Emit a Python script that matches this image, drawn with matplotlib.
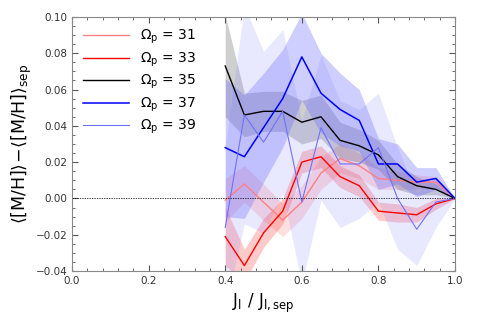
import matplotlib
matplotlib.use('Agg')
import matplotlib.pyplot as plt
from matplotlib.ticker import MultipleLocator

plt.rcParams['mathtext.fontset'] = 'dejavusans'

jl = [0.40, 0.45, 0.50, 0.55, 0.60, 0.65, 0.70, 0.75, 0.80, 0.85, 0.90, 0.95, 1.00]

omegas = [31, 33, 35, 37, 39]

mh_31 = [-0.001, 0.008, -0.002, -0.012, -0.002, 0.014, 0.022, 0.018, 0.011, 0.010, 0.009, 0.009, 0.0]
mh_33 = [-0.021, -0.037, -0.019, -0.007, 0.020, 0.023, 0.012, 0.007, -0.007, -0.008, -0.009, -0.003, 0.0]
mh_35 = [0.073, 0.046, 0.048, 0.048, 0.042, 0.045, 0.032, 0.029, 0.024, 0.012, 0.007, 0.005, 0.0]
mh_37 = [0.028, 0.023, 0.039, 0.055, 0.078, 0.058, 0.049, 0.043, 0.019, 0.019, 0.009, 0.011, 0.0]
mh_39 = [-0.016, 0.046, 0.031, 0.048, -0.002, 0.039, 0.019, 0.019, 0.028, 0.000, -0.017, -0.002, 0.0]

# half widths of the shaded bands
err_31 = [0.012, 0.010, 0.010, 0.009, 0.009, 0.009, 0.008, 0.007, 0.006, 0.005, 0.004, 0.003, 0.0]
err_33 = [0.016, 0.009, 0.008, 0.007, 0.006, 0.006, 0.006, 0.006, 0.005, 0.005, 0.004, 0.003, 0.0]
err_35 = [0.028, 0.012, 0.011, 0.011, 0.012, 0.012, 0.010, 0.009, 0.008, 0.007, 0.005, 0.003, 0.0]
err_37 = [0.038, 0.034, 0.030, 0.027, 0.024, 0.022, 0.020, 0.017, 0.014, 0.011, 0.008, 0.006, 0.0]
err_39 = [0.045, 0.060, 0.050, 0.045, 0.045, 0.040, 0.035, 0.030, 0.030, 0.028, 0.020, 0.014, 0.0]

series = [mh_31, mh_33, mh_35, mh_37, mh_39]
errs = [err_31, err_33, err_35, err_37, err_39]
line_cols = ['#ff8080', 'red', 'black', 'blue', '#7070ff']
band_cols = ['#ff8080', '#ff5050', '#606060', '#6060ff', '#8080ff']
band_alpha = [0.25, 0.3, 0.3, 0.3, 0.18]
lws = [1.0, 1.0, 1.0, 1.1, 0.8]

fig = plt.figure(figsize=(4.8, 3.2), dpi=100)
ax = fig.add_axes([0.15, 0.153, 0.798, 0.794])

for y, e, lc, bc, a, lw, om in zip(series, errs, line_cols, band_cols, band_alpha, lws, omegas):
    lo = [v - d for v, d in zip(y, e)]
    hi = [v + d for v, d in zip(y, e)]
    ax.fill_between(jl, lo, hi, color=bc, alpha=a, lw=0)
    ax.plot(jl, y, color=lc, lw=lw, label=r'$\Omega_\mathrm{p}$ = %d' % om)

ax.axhline(0, color='k', ls='--', lw=0.5, dashes=(2, 1.5))

ax.set_xlim(0, 1)
ax.set_ylim(-0.04, 0.10)
ax.xaxis.set_major_locator(MultipleLocator(0.2))
ax.xaxis.set_minor_locator(MultipleLocator(0.04))
ax.yaxis.set_major_locator(MultipleLocator(0.02))
ax.yaxis.set_minor_locator(MultipleLocator(0.005))
ax.tick_params(which='both', direction='in', top=True, right=True, color='#555555',
               labelsize=7.5, labelcolor='#333333')
ax.tick_params(which='major', length=4)
ax.tick_params(which='minor', length=2)
for s in ax.spines.values():
    s.set_color('#888888')

ax.set_xlabel(r'$\mathrm{J_l\ /\ J_{l,sep}}$', fontsize=12)
ax.set_ylabel(r'$\langle[\mathrm{M/H}]\rangle\!-\!\langle[\mathrm{M/H}]\rangle_{\mathrm{sep}}$',
              fontsize=12.5, labelpad=1)

ax.legend(loc='upper left', frameon=False, fontsize=10, handlelength=3.3, labelspacing=0.3,
          borderaxespad=0.4)

fig.savefig('out.png', dpi=100)
